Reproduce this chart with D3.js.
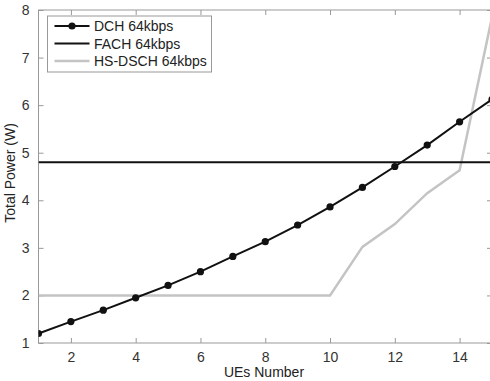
<!DOCTYPE html>
<html>
<head>
<meta charset="utf-8">
<script src="https://cdn.jsdelivr.net/npm/d3@7"></script>
<style>
  body { margin: 0; background: #fff; }
  svg { display: block; font-family: "Liberation Sans", Arial, sans-serif; }
</style>
</head>
<body>
<div id="chart"></div>
<script>
// data
var ues = [1, 2, 3, 4, 5, 6, 7, 8, 9, 10, 11, 12, 13, 14, 15];
var dch = [1.2, 1.45, 1.69, 1.95, 2.21, 2.5, 2.82, 3.13, 3.48, 3.86, 4.27, 4.71, 5.16, 5.65, 6.12];
var fach = [4.8, 4.8, 4.8, 4.8, 4.8, 4.8, 4.8, 4.8, 4.8, 4.8, 4.8, 4.8, 4.8, 4.8, 4.8];
var hsdsch = [2, 2, 2, 2, 2, 2, 2, 2, 2, 2, 3.02, 3.5, 4.15, 4.63, 7.85];
var xTicks = [2, 4, 6, 8, 10, 12, 14];
var yTicks = [1, 2, 3, 4, 5, 6, 7, 8];
var seriesNames = ["DCH 64kbps", "FACH 64kbps", "HS-DSCH 64kbps"];

var W = 490, H = 381;
var margin = { top: 10, right: -2, bottom: 38, left: 38.5 },
  width = W - margin.left - margin.right,
  height = H - margin.top - margin.bottom;

var svg = d3.select("#chart").append("svg")
  .attr("width", W)
  .attr("height", H);

var g = svg.append("g")
  .attr("transform", "translate(" + margin.left + "," + margin.top + ")");

var x = d3.scaleLinear().domain([1, 15]).range([0, width]);
var y = d3.scaleLinear().domain([1, 8]).range([height, 0]);

var axisColor = "#999";

// box
g.append("rect")
  .attr("width", width).attr("height", height)
  .attr("fill", "none").attr("stroke", axisColor).attr("stroke-width", 1);

// axes with inward ticks
var xAxis = g.append("g")
  .attr("transform", "translate(0," + height + ")")
  .call(d3.axisBottom(x).tickValues(xTicks).tickSize(-5).tickPadding(9).tickFormat(d3.format("d")));
var xTop = g.append("g")
  .call(d3.axisTop(x).tickValues(xTicks).tickSize(-5).tickFormat(""));
var yAxis = g.append("g")
  .call(d3.axisLeft(y).tickValues(yTicks).tickSize(-5).tickPadding(9).tickFormat(d3.format("d")));
var yRight = g.append("g")
  .attr("transform", "translate(" + width + ",0)")
  .call(d3.axisRight(y).tickValues(yTicks).tickSize(-5).tickFormat(""));

[xAxis, xTop, yAxis, yRight].forEach(function (a) {
  a.select(".domain").remove();
  a.selectAll(".tick line").attr("stroke", axisColor);
  a.selectAll("text").attr("fill", "#333").style("font-size", "14px");
});

// lines
var line = function (vals) {
  return d3.line()
    .x(function (d, i) { return x(ues[i]); })
    .y(function (d) { return y(d); })(vals);
};

var clip = g.append("defs").append("clipPath").attr("id", "clip")
  .append("rect").attr("width", width).attr("height", height);

var plot = g.append("g").attr("clip-path", "url(#clip)");

plot.append("path").attr("d", line(hsdsch))
  .attr("fill", "none").attr("stroke", "#c4c4c4").attr("stroke-width", 2.5);
plot.append("path").attr("d", line(fach))
  .attr("fill", "none").attr("stroke", "#111").attr("stroke-width", 2);
plot.append("path").attr("d", line(dch))
  .attr("fill", "none").attr("stroke", "#111").attr("stroke-width", 2);
plot.selectAll("circle.dch").data(dch).enter().append("circle")
  .attr("class", "dch")
  .attr("cx", function (d, i) { return x(ues[i]); })
  .attr("cy", function (d) { return y(d); })
  .attr("r", 3.6).attr("fill", "#111");

// legend
var leg = svg.append("g").attr("transform", "translate(47.5,16)");
leg.append("rect").attr("width", 164).attr("height", 56)
  .attr("fill", "#fff").attr("stroke", axisColor).attr("stroke-width", 1);
var legStyles = [
  { stroke: "#111", w: 2, marker: true },
  { stroke: "#111", w: 2, marker: false },
  { stroke: "#c4c4c4", w: 2.5, marker: false }
];
seriesNames.forEach(function (name, i) {
  var ly = 10 + i * 17.5;
  leg.append("line").attr("x1", 7).attr("x2", 42).attr("y1", ly).attr("y2", ly)
    .attr("stroke", legStyles[i].stroke).attr("stroke-width", legStyles[i].w);
  if (legStyles[i].marker) {
    leg.append("circle").attr("cx", 24.5).attr("cy", ly).attr("r", 3.6).attr("fill", "#111");
  }
  leg.append("text").attr("x", 46.5).attr("y", ly + 5)
    .style("font-size", "14px").attr("fill", "#222").text(name);
});

// axis labels
svg.append("text")
  .attr("x", 264).attr("y", 377)
  .attr("text-anchor", "middle").style("font-size", "14px").attr("fill", "#222")
  .text("UEs Number");
svg.append("text")
  .attr("transform", "translate(15,173) rotate(-90)")
  .attr("text-anchor", "middle").style("font-size", "14px").attr("fill", "#222")
  .text("Total Power (W)");
</script>
</body>
</html>
